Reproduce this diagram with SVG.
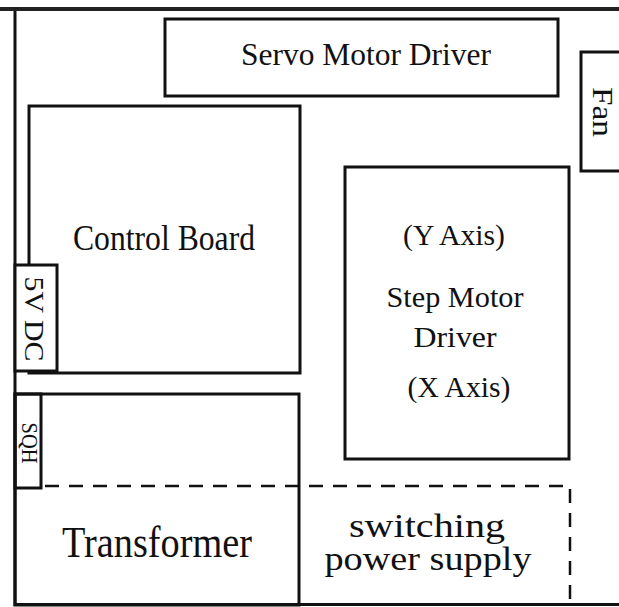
<svg xmlns="http://www.w3.org/2000/svg" width="619" height="607" viewBox="0 0 619 607">
<style>
.box{fill:none;stroke:#111;stroke-width:3}
.dash{fill:none;stroke:#111;stroke-width:2.5;stroke-dasharray:14 10}
text{font-family:"Liberation Serif","DejaVu Serif",serif;fill:#111;text-anchor:middle}
</style>
<rect width="619" height="607" fill="#fff"/>
<g id="frame"><path class="box" d="M619,604.5 H15 V9"/><line x1="0" y1="9" x2="619" y2="9" stroke="#222" stroke-width="4"/></g>
<g id="servo"><rect class="box" x="165" y="19" width="393" height="77"/><text x="366" y="65" font-size="31" textLength="250" lengthAdjust="spacingAndGlyphs">Servo Motor Driver</text></g>
<g id="fan"><rect class="box" x="581" y="52" width="45" height="119"/><text transform="translate(593,112) rotate(90)" font-size="30" textLength="50" lengthAdjust="spacingAndGlyphs">Fan</text></g>
<g id="control"><rect class="box" x="29" y="106" width="271" height="267"/><text x="164" y="250" font-size="35" textLength="182" lengthAdjust="spacingAndGlyphs">Control Board</text></g>
<g id="dc5v"><rect class="box" x="15" y="265" width="42" height="106" style="fill:#fff"/><text transform="translate(25,319) rotate(90)" font-size="27" textLength="85" lengthAdjust="spacingAndGlyphs">5V DC</text></g>
<g id="step"><rect class="box" x="345" y="167" width="224" height="292"/>
<text x="454" y="245" font-size="30" textLength="102" lengthAdjust="spacingAndGlyphs">(Y Axis)</text>
<text x="455" y="307" font-size="30" textLength="137" lengthAdjust="spacingAndGlyphs">Step Motor</text>
<text x="455" y="347" font-size="30" textLength="83" lengthAdjust="spacingAndGlyphs">Driver</text>
<text x="459" y="397" font-size="30" textLength="103" lengthAdjust="spacingAndGlyphs">(X Axis)</text></g>
<g id="lower"><rect class="box" x="15" y="394" width="284" height="211"/></g>
<g id="sqh"><rect class="box" x="15" y="394" width="26" height="94"/><text transform="translate(22,443) rotate(90)" font-size="23" textLength="41" lengthAdjust="spacingAndGlyphs">SQH</text></g>
<g id="connectors"><polyline class="dash" points="45,486 570,486 570,604"/></g>
<g id="transformer"><text x="157" y="557" font-size="44" textLength="190" lengthAdjust="spacingAndGlyphs">Transformer</text></g>
<g id="sps"><text x="427" y="537" font-size="33" textLength="156" lengthAdjust="spacingAndGlyphs">switching</text><text x="428" y="570" font-size="33" textLength="207" lengthAdjust="spacingAndGlyphs">power supply</text></g>
</svg>
